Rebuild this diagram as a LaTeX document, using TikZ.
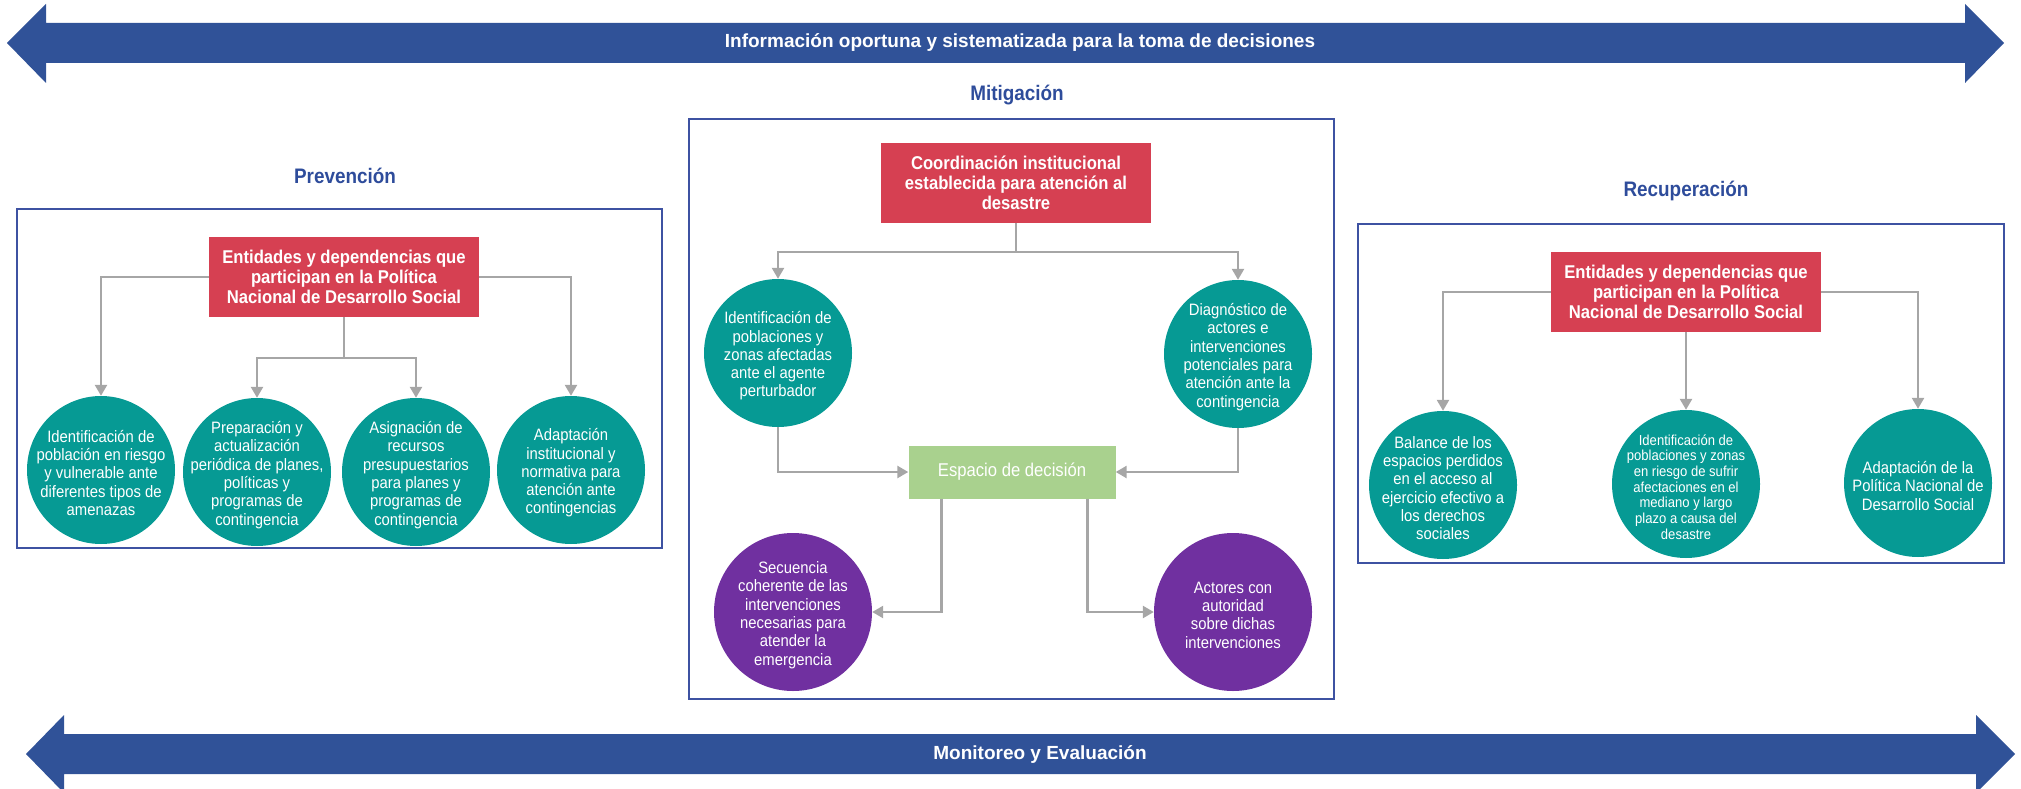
\documentclass[tikz,border=0pt]{standalone}
\usepackage{fontspec}
\setmainfont{Liberation Sans}
\newfontfamily\narrowfont{Liberation Sans}[FakeStretch=0.9]
\usetikzlibrary{arrows.meta}
\definecolor{bannerblue}{RGB}{48,82,152}
\definecolor{frameblue}{RGB}{62,82,162}
\definecolor{titleblue}{RGB}{46,76,155}
\definecolor{entred}{RGB}{214,64,82}
\definecolor{tealdark}{RGB}{6,154,148}
\definecolor{violet}{RGB}{112,48,160}
\definecolor{leafgreen}{RGB}{169,209,142}
\definecolor{conngray}{RGB}{166,166,166}

\tikzset{
  phase/.style={draw=frameblue,line width=2pt},
  phasetitle/.style={text=titleblue,font=\narrowfont\bfseries\fontsize{21}{24}\selectfont},
  bannertext/.style={text=white,font=\bfseries\fontsize{19}{22}\selectfont},
  entbox/.style={fill=entred,text=white,minimum width=270pt,minimum height=80pt,
    align=center,inner sep=0pt,font=\narrowfont\bfseries\fontsize{18.5}{20}\selectfont},
  tealdot/.style={circle,fill=tealdark,minimum size=148pt,inner sep=0pt},
  violetdot/.style={circle,fill=violet,minimum size=158pt,inner sep=0pt},
  dottext/.style={text=white,align=center,yshift=-3pt,
    font=\narrowfont\fontsize{16.5}{18.3}\selectfont},
  smalldottext/.style={dottext,font=\narrowfont\fontsize{14.5}{15.7}\selectfont},
  decbox/.style={fill=leafgreen,text=white,minimum width=207pt,minimum height=53pt,
    inner sep=0pt,font=\narrowfont\fontsize{18.5}{20}\selectfont},
  conn/.style={draw=conngray,line width=2.5pt,-{Triangle[width=12pt,length=11pt]}}
}

\begin{document}
\begin{tikzpicture}[x=1pt,y=-1pt]
\useasboundingbox (0,0) rectangle (2021,789);

% banners
\fill[bannerblue] (7,43) -- (46,4) -- (46,23) -- (1965,23) -- (1965,4) -- (2004,43)
  -- (1965,83) -- (1965,63) -- (46,63) -- (46,83) -- cycle;
\node[bannertext] (info) at (1020,43) {Información oportuna y sistematizada para la toma de decisiones};
\fill[bannerblue] (26,754) -- (64,715) -- (64,734) -- (1976,734) -- (1976,715) -- (2015,754)
  -- (1976,793) -- (1976,774) -- (64,774) -- (64,793) -- cycle;
\node[bannertext] (monit) at (1040,754) {Monitoreo y Evaluación};

% Prevencion
\node[phasetitle] (tprev) at (345,176) {Prevención};
\draw[phase] (17,209) rectangle (662,548);
\node[entbox] (ent1) at (344,277) {Entidades y dependencias que\\participan en la Política\\Nacional de Desarrollo Social};
\node[tealdot,label={[dottext]center:{Identificación de\\población en riesgo\\y vulnerable ante\\diferentes tipos de\\amenazas}}] (p1) at (101,470) {};
\node[tealdot,label={[dottext]center:{Preparación y\\actualización\\periódica de planes,\\políticas y\\programas de\\contingencia}}] (p2) at (257,472) {};
\node[tealdot,label={[dottext]center:{Asignación de\\recursos\\presupuestarios\\para planes y\\programas de\\contingencia}}] (p3) at (416,472) {};
\node[tealdot,label={[dottext]center:{Adaptación\\institucional y\\normativa para\\atención ante\\contingencias}}] (p4) at (571,470) {};
\coordinate (b1) at (344,358);
\draw[conn] (ent1.west) -| (p1.north);
\draw[conn] (ent1.east) -| (p4.north);
\draw[conn] (ent1.south) -- (b1) -| (p2.north);
\draw[conn] (b1) -| (p3.north);

% Mitigacion
\node[phasetitle] (tmit) at (1017,95) {Mitigación};
\draw[phase] (689,119) rectangle (1334,699);
\node[entbox] (ent2) at (1016,183) {Coordinación institucional\\establecida para atención al\\desastre};
\node[tealdot,label={[dottext]center:{Identificación de\\poblaciones y\\zonas afectadas\\ante el agente\\perturbador}}] (m1) at (778,353) {};
\node[tealdot,label={[dottext]center:{Diagnóstico de\\actores e\\intervenciones\\potenciales para\\atención ante la\\contingencia}}] (m2) at (1238,354) {};
\node[decbox] (dec) at (1012,472) {Espacio de decisión};
\node[violetdot,label={[dottext]center:{Secuencia\\coherente de las\\intervenciones\\necesarias para\\atender la\\emergencia}}] (s1) at (793,612) {};
\node[violetdot,label={[dottext]center:{Actores con\\autoridad\\sobre dichas\\intervenciones}}] (s2) at (1233,612) {};
\coordinate (b2) at (1016,252);
\draw[conn] (ent2.south) -- (b2) -| (m1.north);
\draw[conn] (b2) -| (m2.north);
\draw[conn] (m1.south) |- (dec.west);
\draw[conn] (m2.south) |- (dec.east);
\draw[conn] ([xshift=33pt]dec.south west) |- (s1.east);
\draw[conn] ([xshift=-28pt]dec.south east) |- (s2.west);

% Recuperacion
\node[phasetitle] (trec) at (1686,191) {Recuperación};
\draw[phase] (1358,224) rectangle (2004,563);
\node[entbox] (ent3) at (1686,292) {Entidades y dependencias que\\participan en la Política\\Nacional de Desarrollo Social};
\node[tealdot,label={[dottext]center:{Balance de los\\espacios perdidos\\en el acceso al\\ejercicio efectivo a\\los derechos\\sociales}}] (r1) at (1443,485) {};
\node[tealdot,label={[smalldottext]center:{Identificación de\\poblaciones y zonas\\en riesgo de sufrir\\afectaciones en el\\mediano y largo\\plazo a causa del\\desastre}}] (r2) at (1686,484) {};
\node[tealdot,label={[dottext]center:{Adaptación de la\\Política Nacional de\\Desarrollo Social}}] (r3) at (1918,483) {};
\draw[conn] (ent3.west) -| (r1.north);
\draw[conn] (ent3.south) -- (r2.north);
\draw[conn] (ent3.east) -| (r3.north);
\end{tikzpicture}
\end{document}
